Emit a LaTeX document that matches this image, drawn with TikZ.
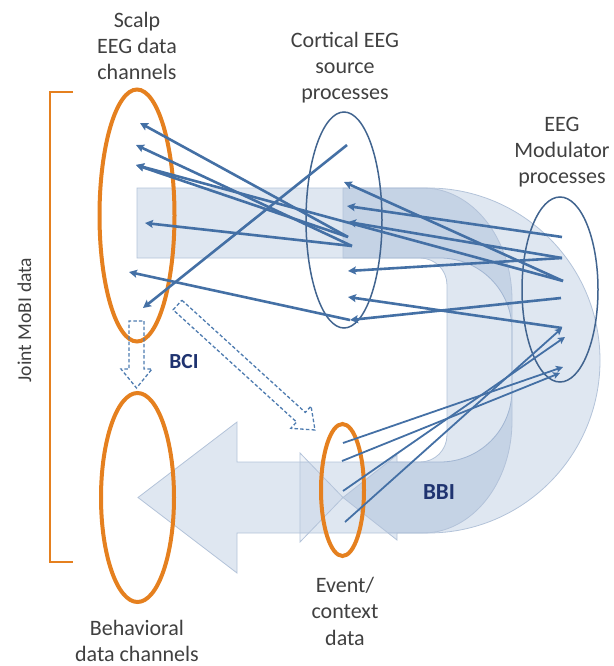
\documentclass[tikz,border=0pt]{standalone}
\usepackage{fontspec}
\setmainfont{Carlito}
\usetikzlibrary{arrows.meta,shapes.geometric,calc}

\definecolor{lbl}{HTML}{404040}
\definecolor{navy}{HTML}{1F3370}
\definecolor{orng}{HTML}{E5801F}
\definecolor{wire}{HTML}{4470A5}
\definecolor{ring}{HTML}{41648F}
\definecolor{band}{HTML}{557DB4}
\definecolor{bandedge}{HTML}{B3C3D9}
\definecolor{dashblue}{HTML}{4F7CB0}

\tikzset{
  flowshape/.style={fill=band, fill opacity=0.19, draw=bandedge, line width=0.8pt},
  datarim/.style={ellipse, draw=orng, line width=4pt, inner sep=0pt},
  procrim/.style={ellipse, draw=ring, line width=1.5pt, inner sep=0pt},
  link/.style={draw=wire, line width=2.6pt, -{Stealth[length=8pt,width=8pt,inset=1.5pt]}},
  thinlink/.style={draw=wire, line width=1.8pt, -{Stealth[length=7pt,width=7pt,inset=1.5pt]}},
  hollow/.style={draw=dashblue, dash pattern=on 3.5pt off 2.2pt, line width=1.3pt, line join=miter},
  caption/.style={text=lbl, font=\fontsize{22}{26.3}\selectfont, align=center, inner sep=0pt},
  tag/.style={text=navy, inner sep=0pt},
}

% hollow block arrow: head-base name, tail, tip, half shaft width, half head width, head length
\newcommand{\blockarrow}[6]{%
  \coordinate (#1) at ($(#3)!#6!(#2)$);
  \draw[hollow] ($(#2)!#4!90:(#3)$) -- ($(#1)!#4!90:(#3)$) -- ($(#1)!#5!90:(#3)$)
    -- (#3) -- ($(#1)!#5!-90:(#3)$) -- ($(#1)!#4!-90:(#3)$) -- ($(#2)!#4!-90:(#3)$) -- cycle;}

\begin{document}
\begin{tikzpicture}[x=1pt,y=-1pt]
\useasboundingbox (0,0) rectangle (613,666);

% large U-turn band with the broad left head
\path[flowshape] (137,188) -- (428,188)
  .. controls (523,188) and (600,265.2) .. (600,360.5)
  .. controls (600,455.8) and (523,533) .. (428,533)
  -- (237,533) -- (237,573) -- (138,497.5) -- (237,422) -- (237,462) -- (440,462)
  .. controls (479.8,462) and (512,429.8) .. (512,390) -- (512,330)
  .. controls (512,290.2) and (479.8,258) .. (440,258) -- (137,258) -- cycle;
% inner U-turn band
\path[flowshape] (343,188) -- (423,188)
  .. controls (472.2,188) and (512,238.1) .. (512,300) -- (512,421)
  .. controls (512,482.9) and (472.2,533) .. (423,533)
  -- (397,533) -- (397,540) -- (343,497.5) -- (397,455) -- (397,462) -- (420,462)
  .. controls (435,462) and (447,450) .. (447,435) -- (447,285)
  .. controls (447,270) and (435,258) .. (420,258) -- (343,258) -- cycle;
% small right head
\path[flowshape, fill opacity=0.08] (300,453) -- (343,497.5) -- (300,542) -- cycle;

% bracket of the joint data
\draw[orng, line width=1.5pt] (73,92) -- (50,92) -- (50,562) -- (73,562);

% data and process groups
\node[datarim, minimum width=75pt, minimum height=252pt] (scalp) at (137,215.5) {};
\node[datarim, minimum width=73pt, minimum height=209pt] (behav) at (137.5,497.5) {};
\node[datarim, minimum width=43pt, minimum height=132pt] (event) at (342.5,490) {};
\node[procrim, minimum width=76pt, minimum height=216pt] (cortex) at (344,220) {};
\node[procrim, minimum width=76pt, minimum height=185pt] (modul) at (560,289.5) {};

% BCI block arrows
\coordinate (bciA) at (136.5,321);
\coordinate (bciB) at (136.5,388);
\coordinate (bciC) at (177.5,305);
\coordinate (bciD) at (315,430);
\blockarrow{bciAh}{bciA}{bciB}{7.5pt}{15.5pt}{19pt}
\blockarrow{bciCh}{bciC}{bciD}{6.5pt}{15pt}{19pt}

% channel end points
\coordinate (sA) at (140,123);
\coordinate (sB) at (136,145);
\coordinate (sC) at (136,165);
\coordinate (sD) at (145,223);
\coordinate (sE) at (129,272);
\coordinate (sF) at (143,308);
% source end points
\coordinate (cA) at (344,182);
\coordinate (cB) at (347,206);
\coordinate (cC) at (348,222);
\coordinate (cD) at (348,271);
\coordinate (cE) at (348,297);
\coordinate (cF) at (350,320);
\coordinate (tT) at (347,145);
\coordinate (tU) at (348,237);
\coordinate (tV) at (352,246);
% modulator end points
\coordinate (mA) at (562,237);
\coordinate (mB) at (562,258);
\coordinate (mC) at (563,281);
\coordinate (mD) at (561,298);
\coordinate (mE) at (562,328);
\coordinate (mF) at (565,337);
\coordinate (mG) at (563,367);
\coordinate (mH) at (560,373);
% event end points
\coordinate (eA) at (343,443);
\coordinate (eB) at (342,461);
\coordinate (eC) at (343,491);
\coordinate (eD) at (345,522);

% modulators to sources
\draw[link] (mC) -- (cA);
\draw[link] (mA) -- (cB);
\draw[link] (mB) -- (cC);
\draw[link] (mB) -- (cD);
\draw[link] (mE) -- (cE);
\draw[link] (mD) -- (cF);
% sources to scalp channels
\draw[link] (tU) -- (sA);
\draw[link] (tV) -- (sB);
\draw[link] (tU) -- (sC);
\draw[link] (mC) -- (sC);
\draw[link] (tV) -- (sD);
\draw[link] (cF) -- (sE);
\draw[link] (tT) -- (sF);
% events to modulators
\draw[thinlink] (eA) -- (mG);
\draw[thinlink] (eB) -- (mH);
\draw[thinlink] (eC) -- (mF);
\draw[thinlink] (eD) -- (mE);

% labels
\node[caption] (scalptxt) at (137,48.2) {\strut Scalp\\\strut EEG data\\\strut channels};
\node[caption] (cortextxt) at (345,68.2) {\strut Cortical EEG\\\strut source\\\strut processes};
\node[caption] (modultxt) at (562,152.2) {\strut EEG\\\strut Modulator\\\strut processes};
\node[caption] (behavtxt) at (137,643.2) {\strut Behavioral\\\strut data channels};
\node[caption] (eventtxt) at (345,613.7) {\strut Event/\\\strut context\\\strut data};
\node[caption, rotate=90, font=\fontsize{19.6}{23}\selectfont] (jointtxt) at (24.5,320) {Joint MoBI data};
\node[tag, font=\fontsize{21.5}{25}\selectfont\bfseries] (bcitxt) at (184,361.5) {BCI};
\node[tag, font=\fontsize{23}{27}\selectfont\bfseries] (bbitxt) at (439,492.5) {BBI};
\end{tikzpicture}
\end{document}
